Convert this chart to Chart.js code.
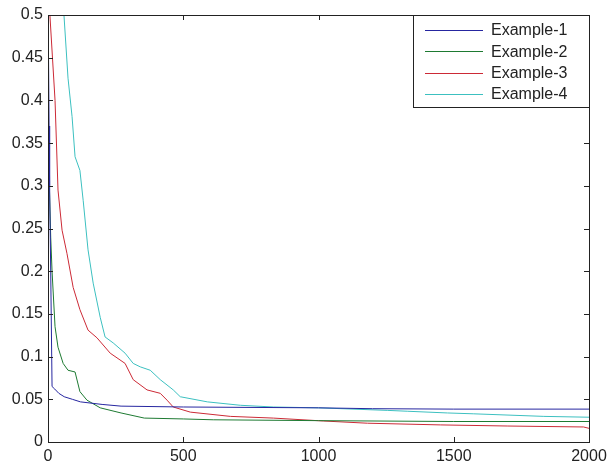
<!DOCTYPE html>
<html>
<head>
<meta charset="utf-8">
<script src="https://cdn.jsdelivr.net/npm/chart.js@4.4.1/dist/chart.umd.min.js"></script>
<style>
  html, body { margin: 0; padding: 0; background: #fff; }
  #wrap { width: 608px; height: 468px; }
</style>
</head>
<body>
<div id="wrap"><canvas id="chart"></canvas></div>
<script>
// values
const ex1X = [2, 4, 6, 10, 15, 25, 40, 60, 90, 120, 200, 270, 500, 1000, 1200, 1500, 2000];
const ex1Y = [0.45, 0.37, 0.3, 0.2, 0.065, 0.062, 0.057, 0.053, 0.05, 0.047, 0.044, 0.042, 0.041, 0.040, 0.039, 0.0385, 0.0385];

const ex2X = [2, 5, 10, 15, 26, 37, 56, 74, 100, 118, 144, 193, 270, 356, 500, 611, 1000, 1500, 2000];
const ex2Y = [0.37, 0.3, 0.24, 0.2, 0.135, 0.111, 0.092, 0.084, 0.082, 0.059, 0.049, 0.040, 0.034, 0.028, 0.027, 0.026, 0.025, 0.024, 0.024];

const ex3X = [7, 26, 37, 52, 70, 93, 118, 148, 181, 230, 285, 315, 366, 415, 440, 463, 526, 674, 833, 1018, 1181, 1452, 1700, 1980, 2000];
const ex3Y = [0.5, 0.40, 0.295, 0.248, 0.221, 0.181, 0.155, 0.131, 0.122, 0.104, 0.092, 0.073, 0.061, 0.057, 0.049, 0.041, 0.035, 0.030, 0.028, 0.0246, 0.022, 0.020, 0.0187, 0.0176, 0.016];

const ex4X = [40, 59, 74, 89, 100, 118, 130, 148, 167, 193, 211, 241, 285, 315, 341, 378, 415, 463, 489, 589, 711, 833, 1000, 1256, 1330, 1477, 1574, 1833, 2000];
const ex4Y = [0.6, 0.5, 0.426, 0.381, 0.334, 0.318, 0.283, 0.225, 0.186, 0.146, 0.123, 0.116, 0.104, 0.092, 0.088, 0.084, 0.073, 0.061, 0.053, 0.047, 0.043, 0.041, 0.040, 0.037, 0.036, 0.034, 0.033, 0.030, 0.029];

const labels = ["Example-1", "Example-2", "Example-3", "Example-4"];
const colors = ["#2626a0", "#1e7a32", "#cc2a36", "#3cc0c0"];

const xTicks = [0, 500, 1000, 1500, 2000];

function pts(xs, ys) {
  return xs.map((x, i) => ({ x: x, y: ys[i] }));
}

const series = [pts(ex1X, ex1Y), pts(ex2X, ex2Y), pts(ex3X, ex3Y), pts(ex4X, ex4Y)];

const fontFam = "'Liberation Sans', Arial, Helvetica, sans-serif";
const textColor = "#222";

// box, inward ticks on all four sides and the legend box
const matlabFrame = {
  id: "matlabFrame",
  afterDraw(chart) {
    const ctx = chart.ctx;
    const a = chart.chartArea;
    const xs = chart.scales.x;
    const ys = chart.scales.y;
    const tl = 5;
    ctx.save();
    ctx.strokeStyle = "#222";
    ctx.lineWidth = 1;
    ctx.strokeRect(Math.round(a.left) + 0.5, Math.round(a.top) + 0.5,
      Math.round(a.right - a.left), Math.round(a.bottom - a.top));
    ctx.beginPath();
    xs.ticks.forEach((t) => {
      const px = Math.round(xs.getPixelForValue(t.value)) + 0.5;
      ctx.moveTo(px, a.bottom);
      ctx.lineTo(px, a.bottom - tl);
      ctx.moveTo(px, a.top);
      ctx.lineTo(px, a.top + tl);
    });
    ys.ticks.forEach((t) => {
      const py = Math.round(ys.getPixelForValue(t.value)) + 0.5;
      ctx.moveTo(a.left, py);
      ctx.lineTo(a.left + tl, py);
      ctx.moveTo(a.right, py);
      ctx.lineTo(a.right - tl, py);
    });
    ctx.stroke();

    // legend
    const lw = 176, lh = 92;
    const lx = Math.round(a.right) - lw, ly = Math.round(a.top);
    ctx.fillStyle = "#fff";
    ctx.fillRect(lx, ly, lw, lh);
    ctx.strokeRect(lx + 0.5, ly + 0.5, lw, lh);
    ctx.font = "16px " + fontFam;
    ctx.textBaseline = "middle";
    ctx.textAlign = "left";
    chart.data.datasets.forEach((ds, i) => {
      const cy = ly + 15 + i * 21.3;
      ctx.strokeStyle = ds.borderColor;
      ctx.beginPath();
      ctx.moveTo(lx + 12, Math.round(cy) + 0.5);
      ctx.lineTo(lx + 70, Math.round(cy) + 0.5);
      ctx.stroke();
      ctx.fillStyle = textColor;
      ctx.fillText(ds.label, lx + 78, cy + 1);
    });
    ctx.restore();
  },
};

new Chart(document.getElementById("chart"), {
  type: "line",
  data: {
    datasets: series.map((d, i) => ({
      label: labels[i],
      data: d,
      borderColor: colors[i],
      backgroundColor: colors[i],
      borderWidth: 1,
      pointRadius: 0,
      tension: 0,
      fill: false,
    })),
  },
  options: {
    responsive: true,
    maintainAspectRatio: false,
    animation: false,
    layout: { padding: { top: 15, right: 19, left: 0, bottom: 0 } },
    plugins: {
      legend: { display: false },
      tooltip: { enabled: false },
    },
    scales: {
      x: {
        type: "linear",
        min: 0,
        max: 2000,
        afterBuildTicks: (scale) => {
          scale.ticks = xTicks.map((v) => ({ value: v }));
        },
        afterFit: (scale) => {
          scale.height = 26;
          scale.paddingLeft = 0;
          scale.paddingRight = 0;
        },
        grid: { display: false, drawTicks: false },
        border: { display: false },
        ticks: {
          padding: 5,
          maxRotation: 0,
          autoSkip: false,
          color: textColor,
          font: { family: fontFam, size: 16 },
          callback: (v) => String(v),
        },
      },
      y: {
        type: "linear",
        min: 0,
        max: 0.5,
        afterFit: (scale) => {
          scale.width = 48;
        },
        grid: { display: false, drawTicks: false },
        border: { display: false },
        ticks: {
          stepSize: 0.05,
          padding: 5,
          color: textColor,
          font: { family: fontFam, size: 16 },
          callback: (v) => String(Number(v.toFixed(2))),
        },
      },
    },
  },
  plugins: [matlabFrame],
});
</script>
</body>
</html>
